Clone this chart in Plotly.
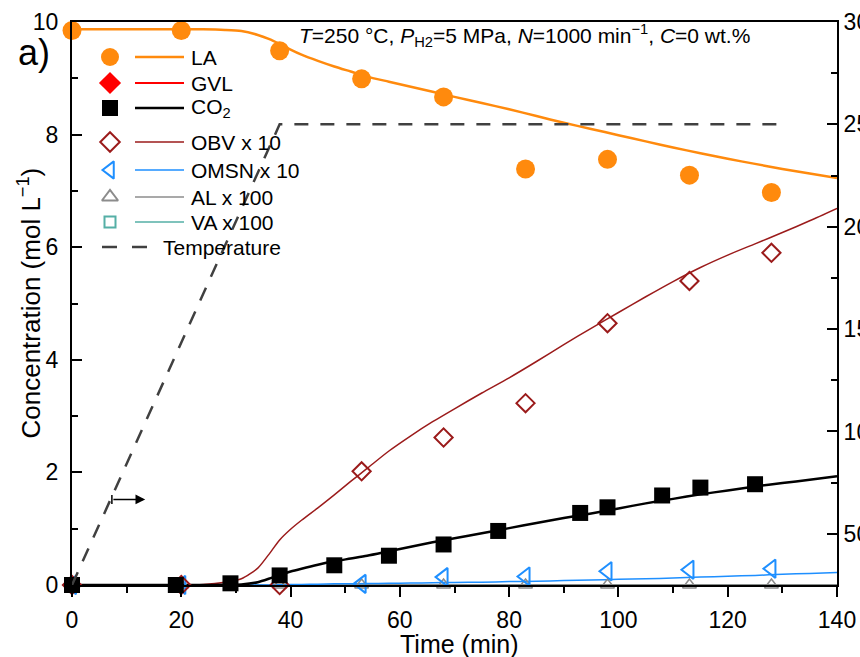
import plotly.graph_objects as go

# ---------------- data ----------------
# sampling times (min)
t_samples = [0, 20, 38, 53, 68, 83, 98, 113, 128]
t_co2 = [0, 19, 29, 38, 48, 58, 68, 78, 93, 98, 108, 115, 125]

# measured concentrations (mol/L); minor products already multiplied by factor
la_meas = [9.85, 9.85, 9.49, 8.99, 8.67, 7.39, 7.56, 7.28, 6.97]
gvl_meas = [-0.02, -0.02, -0.02, -0.02, -0.02, -0.02, -0.02, -0.02, -0.02]
co2_meas = [0.0, 0.0, 0.03, 0.17, 0.35, 0.52, 0.72, 0.96, 1.28, 1.38, 1.59, 1.73, 1.79]
obv_meas = [0.0, 0.0, 0.0, 2.02, 2.62, 3.23, 4.65, 5.40, 5.90]
omsn_meas = [0.0, 0.0, -0.05, 0.02, 0.14, 0.15, 0.245, 0.27, 0.29]
al_meas = [0.0, 0.0, 0.0, 0.0, 0.0, 0.0, 0.0, 0.0, 0.0]
va_meas = [-0.02, -0.02, -0.02, -0.02, -0.02, -0.02, -0.02, -0.02, -0.02]

# model curves
t_model = [0, 10, 20, 24, 28, 31, 34, 36, 38, 40, 42, 45, 48, 51, 54, 58, 62, 66,
           70, 75, 80, 85, 90, 95, 100, 105, 110, 115, 120, 125, 130, 135, 140]
la_model = [9.87, 9.87, 9.87, 9.87, 9.86, 9.84, 9.77, 9.70, 9.61, 9.51, 9.42, 9.31,
            9.21, 9.12, 9.03, 8.94, 8.85, 8.76, 8.67, 8.56, 8.45, 8.33, 8.21, 8.10,
            7.99, 7.88, 7.77, 7.67, 7.57, 7.48, 7.39, 7.31, 7.23]
co2_model = [0, 0, 0, 0, 0.005, 0.01, 0.05, 0.11, 0.18, 0.24, 0.29, 0.36, 0.42, 0.47,
             0.52, 0.60, 0.68, 0.76, 0.83, 0.92, 1.01, 1.10, 1.19, 1.27, 1.36, 1.45,
             1.53, 1.61, 1.68, 1.75, 1.81, 1.87, 1.93]
obv_model = [0, 0, 0, 0.01, 0.05, 0.11, 0.30, 0.54, 0.80, 0.99, 1.15, 1.37, 1.60, 1.84,
             2.07, 2.38, 2.65, 2.90, 3.13, 3.41, 3.68, 3.97, 4.27, 4.56, 4.84, 5.12,
             5.39, 5.64, 5.86, 6.06, 6.26, 6.47, 6.69]
omsn_model = [0, 0, 0, 0, 0, 0, 0, 0, 0.005, 0.01, 0.01, 0.015, 0.02, 0.02, 0.025, 0.03,
              0.035, 0.04, 0.045, 0.05, 0.06, 0.065, 0.08, 0.09, 0.10, 0.11, 0.125,
              0.14, 0.155, 0.17, 0.19, 0.205, 0.22]
t_flat = [0, 140]
gvl_model = [0, 0]
al_model = [0, 0]
va_model = [0, 0]

# reactor temperature program (deg C)
t_temp = [0, 38, 130]
temp = [25, 250, 250]

# axis ticks
x_ticks = [0, 20, 40, 60, 80, 100, 120, 140]
y_ticks = [0, 2, 4, 6, 8, 10]
y2_ticks = [50, 100, 150, 200, 250, 300]
y2_labels = ["50", "100", "150", "200", "250", "300"]

# ---------------- style ----------------
FONT = "Liberation Sans, Arial, sans-serif"
C_LA = "#FF8A0D"
C_GVL = "#FF0000"
C_CO2 = "#000000"
C_OBV = "#9B1B1B"
C_OMSN = "#1E8FFF"
C_AL = "#8C8C8C"
C_VA = "#55AFA6"
C_T = "#404040"

W, H = 860, 657
M_L, M_R, M_T, M_B = 72, 23, 22, 72
PLOT_W = W - M_L - M_R
PLOT_H = H - M_T - M_B


def paper_xy(px, py):
    """Convert page pixels to paper coordinates."""
    return (px - M_L) / PLOT_W, (H - M_B - py) / PLOT_H


fig = go.Figure()

# temperature on the secondary axis
fig.add_trace(go.Scatter(x=t_temp, y=temp, mode="lines", yaxis="y2",
                         line=dict(color=C_T, width=2.5, dash="14px,12px"),
                         showlegend=False))

# model lines
line_specs = [
    (t_flat, gvl_model, C_GVL, 1.5),
    (t_flat, va_model, C_VA, 1.5),
    (t_flat, al_model, C_AL, 1.5),
    (t_model, omsn_model, C_OMSN, 1.5),
    (t_model, obv_model, C_OBV, 1.5),
    (t_model, co2_model, C_CO2, 2.5),
    (t_model, la_model, C_LA, 2.5),
]
for tx, vy, col, w in line_specs:
    fig.add_trace(go.Scatter(x=tx, y=vy, mode="lines",
                             line=dict(color=col, width=w, shape="spline",
                                       smoothing=0.7),
                             showlegend=False, cliponaxis=False))

# measured points
marker_specs = [
    (t_samples, gvl_meas, dict(symbol="diamond", size=12, color=C_GVL)),
    (t_samples, al_meas, dict(symbol="triangle-up-open", size=12, color=C_AL,
                              line=dict(width=1.5, color=C_AL))),
    (t_samples, va_meas, dict(symbol="square-open", size=10, color=C_VA,
                              line=dict(width=2, color=C_VA))),
    (t_samples, omsn_meas, dict(symbol="triangle-left-open", size=16, color=C_OMSN,
                                line=dict(width=2, color=C_OMSN))),
    (t_samples, obv_meas, dict(symbol="diamond-open", size=14, color=C_OBV,
                               line=dict(width=2, color=C_OBV))),
    (t_co2, co2_meas, dict(symbol="square", size=16, color=C_CO2)),
    (t_samples, la_meas, dict(symbol="circle", size=19, color=C_LA)),
]
for tx, vy, mk in marker_specs:
    fig.add_trace(go.Scatter(x=tx, y=vy, mode="markers", marker=mk,
                             showlegend=False, cliponaxis=False))

# ---------------- hand-built legend (page-pixel overlay axes) ----------------
legend_rows = [
    ("LA", dict(symbol="circle", size=18, color=C_LA), C_LA, 2.5, 57),
    ("GVL", dict(symbol="diamond", size=17, color=C_GVL), C_GVL, 2, 83),
    ("CO<sub>2</sub>", dict(symbol="square", size=16, color=C_CO2), C_CO2, 2.5, 108),
    ("OBV x 10", dict(symbol="diamond-open", size=15, color=C_OBV,
                      line=dict(width=2, color=C_OBV)), C_OBV, 1.5, 142),
    ("OMSN x 10", dict(symbol="triangle-left-open", size=15, color=C_OMSN,
                       line=dict(width=2, color=C_OMSN)), C_OMSN, 1.5, 170),
    ("AL x 100", dict(symbol="triangle-up-open", size=14, color=C_AL,
                      line=dict(width=2, color=C_AL)), C_AL, 1.5, 197),
    ("VA x 100", dict(symbol="square-open", size=11, color=C_VA,
                      line=dict(width=2, color=C_VA)), C_VA, 1.5, 222),
]
annotations = []
for label, mk, col, w, yy in legend_rows:
    fig.add_trace(go.Scatter(x=[110], y=[yy], mode="markers", marker=mk,
                             xaxis="x3", yaxis="y3", showlegend=False))
    fig.add_trace(go.Scatter(x=[135, 184], y=[yy, yy], mode="lines",
                             line=dict(color=col, width=w),
                             xaxis="x3", yaxis="y3", showlegend=False))
    annotations.append(dict(x=189, y=yy, xref="x3", yref="y3", text=label,
                            showarrow=False, xanchor="left", yanchor="middle",
                            font=dict(family=FONT, size=21, color="black")))
fig.add_trace(go.Scatter(x=[102, 147], y=[247, 247], mode="lines",
                         line=dict(color=C_T, width=2.5, dash="15px,15px"),
                         xaxis="x3", yaxis="y3", showlegend=False))
annotations.append(dict(x=161, y=247, xref="x3", yref="y3", text="Temperature",
                        showarrow=False, xanchor="left", yanchor="middle",
                        font=dict(family=FONT, size=21, color="black")))

# condition text
annotations.append(dict(x=297, y=35, xref="x3", yref="y3",
                        text="<i>T</i>=250 °C, <i>P</i><sub>H2</sub>=5 MPa, "
                             "<i>N</i>=1000 min<sup>−1</sup>, <i>C</i>=0 wt.%",
                        showarrow=False, xanchor="left", yanchor="middle",
                        font=dict(family=FONT, size=21, color="black")))

# panel label and axis titles (outside the plot area -> paper coordinates)
ax_, ay_ = paper_xy(34, 52)
annotations.append(dict(x=ax_, y=ay_, xref="paper", yref="paper", text="a)",
                        showarrow=False, xanchor="center", yanchor="middle",
                        font=dict(family=FONT, size=36, color="black")))
tx_, ty_ = paper_xy(30, (H - M_B + M_T) / 2)
annotations.append(dict(x=tx_, y=ty_, xref="paper", yref="paper",
                        text="Concentration (mol L<sup>−1</sup>)", textangle=-90,
                        showarrow=False, xanchor="center", yanchor="middle",
                        font=dict(family=FONT, size=26, color="black")))
bx_, by_ = paper_xy(459, 644)
annotations.append(dict(x=bx_, y=by_, xref="paper", yref="paper", text="Time (min)",
                        showarrow=False, xanchor="center", yanchor="middle",
                        font=dict(family=FONT, size=25, color="black")))

# arrow pointing to the temperature axis
annotations.append(dict(x=13.4, y=1.52, ax=7.3, ay=1.52, xref="x", yref="y",
                        axref="x", ayref="y", showarrow=True, arrowhead=2,
                        arrowsize=1.3, arrowwidth=1.5, arrowcolor="black", text=""))

shapes = [dict(type="line", xref="x", yref="y", x0=7.3, x1=7.3, y0=1.44, y1=1.60,
               line=dict(color="black", width=1.5))]

tick_font = dict(family=FONT, size=23, color="black")
fig.update_layout(
    width=W, height=H,
    margin=dict(l=M_L, r=M_R, t=M_T, b=M_B),
    paper_bgcolor="white", plot_bgcolor="white",
    template="none",
    showlegend=False,
    annotations=annotations,
    shapes=shapes,
    xaxis=dict(range=[0, 140], tickvals=x_ticks, ticks="outside", ticklen=10,
               tickwidth=2, tickcolor="black", showline=True, linewidth=2,
               linecolor="black", mirror=True, showgrid=False, zeroline=False,
               tickfont=tick_font, automargin=False, ticklabelstandoff=3,
               minor=dict(ticks="outside", ticklen=6, tickwidth=2, dtick=10,
                          tick0=0, tickcolor="black", showgrid=False)),
    yaxis=dict(range=[0, 10], tickvals=y_ticks, ticks="inside", ticklen=10,
               tickwidth=2, tickcolor="black", showline=True, linewidth=2,
               linecolor="black", showgrid=False, zeroline=False,
               tickfont=tick_font, automargin=False, ticklabelstandoff=7,
               minor=dict(ticks="inside", ticklen=6, tickwidth=2, dtick=1,
                          tick0=0, tickcolor="black", showgrid=False)),
    yaxis2=dict(range=[25, 300], overlaying="y", side="right", tickvals=y2_ticks,
                ticktext=y2_labels, ticks="inside", ticklen=10, tickwidth=2,
                tickcolor="black", showline=True, linewidth=2, linecolor="black",
                showgrid=False, zeroline=False, tickfont=tick_font,
                automargin=False,
                minor=dict(ticks="inside", ticklen=6, tickwidth=2,
                           tickvals=[75, 125, 175, 225, 275], tickcolor="black",
                           showgrid=False)),
    xaxis3=dict(overlaying="x", range=[M_L, W - M_R], visible=False, anchor="y3"),
    yaxis3=dict(overlaying="y", range=[H - M_B, M_T], visible=False, anchor="x3"),
)

fig.write_html("out.html")
